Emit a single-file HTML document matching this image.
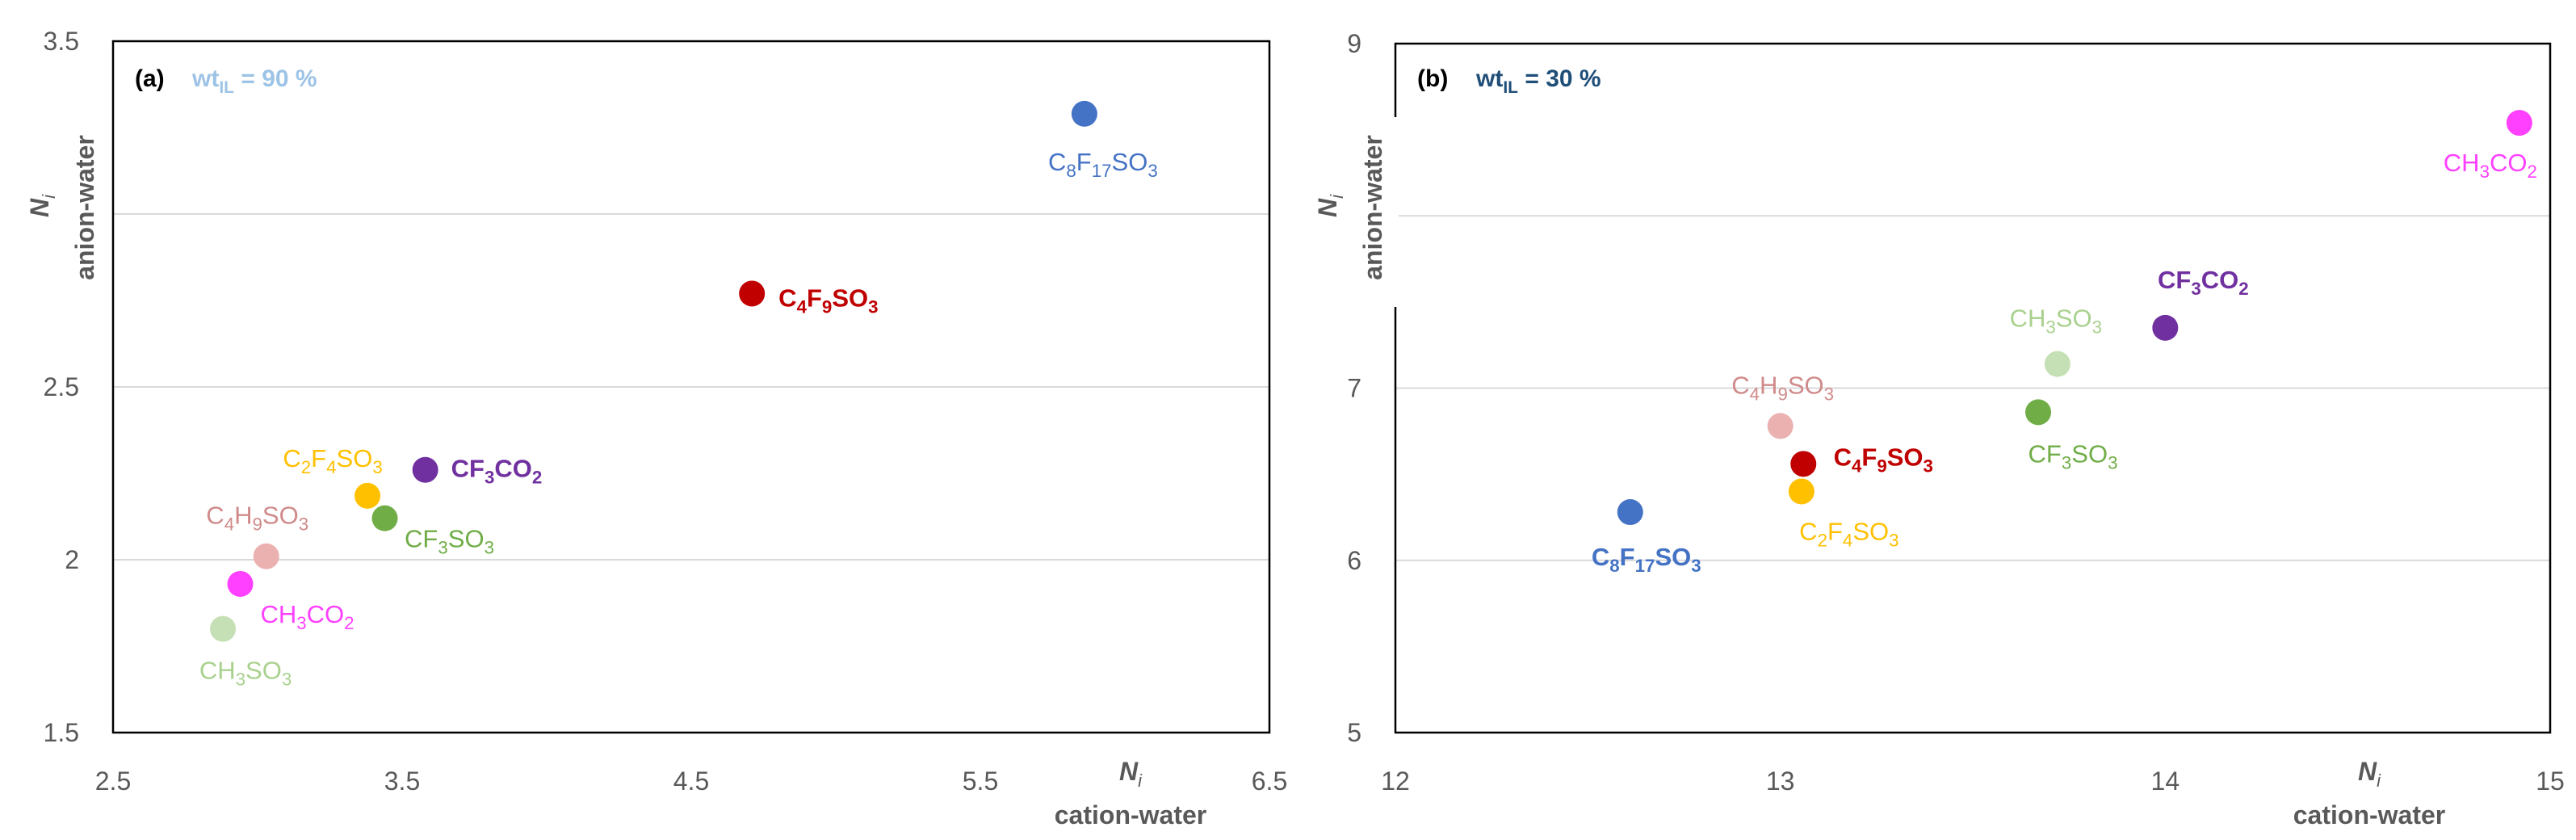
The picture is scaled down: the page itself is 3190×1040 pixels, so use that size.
<!DOCTYPE html>
<html><head><meta charset="utf-8"><style>
html,body{margin:0;padding:0;background:#fff;}
svg{display:block;font-family:"Liberation Sans",sans-serif;}
</style></head><body>
<svg id="chart" width="3190" height="1040" viewBox="0 0 3190 1040" xmlns="http://www.w3.org/2000/svg"></svg>
<script>
// ---- data ----
const anions = ["C8F17SO3","C4F9SO3","CF3CO2","C2F4SO3","CF3SO3","C4H9SO3","CH3CO2","CH3SO3"];
const colors = ["#4472c4","#c00000","#7030a0","#ffc000","#70ad47","#ebb0b0","#ff40ff","#c5e0b4"];
const textColors = ["#4472c4","#c00000","#7030a0","#ffc000","#70ad47","#d08a8a","#ff40ff","#a9d18e"];
const xA = [5.86,4.71,3.58,3.38,3.44,3.03,2.94,2.88];
const yA = [3.29,2.77,2.26,2.185,2.12,2.01,1.93,1.80];
const xB = [12.61,13.06,14.0,13.055,13.67,13.0,14.92,13.72];
const yB = [6.28,6.56,7.35,6.40,6.86,6.78,8.54,7.14];
const xTicksA = [2.5,3.5,4.5,5.5,6.5];
const yTicksA = [1.5,2,2.5,3,3.5];
const yLabelsA = ["1.5","2","2.5","","3.5"];
const xTicksB = [12,13,14,15];
const yTicksB = [5,6,7,8,9];
const yLabelsB = ["5","6","7","","9"];
// label layout (pixel offsets from marker, anchor, bold)
const layA = [[23,59,"middle",0],[33,5,"start",1],[32,-2,"start",1],[-43,-47,"middle",0],[80,25,"middle",0],[-11,-51,"middle",0],[83,37,"middle",0],[28,51,"middle",0]];
const layB = [[20,55,"middle",1],[99,-9,"middle",1],[47,-60,"middle",1],[59,49,"middle",0],[43,51,"middle",0],[3,-51,"middle",0],[-36,49,"middle",0],[-2,-57,"middle",0]];

const NS="http://www.w3.org/2000/svg";
const svg=document.getElementById('chart');
function mk(tag,attrs,parent){const e=document.createElementNS(NS,tag);for(const k in attrs)e.setAttribute(k,attrs[k]);(parent||svg).appendChild(e);return e;}
function chem(t,str){
  const parts=str.match(/[A-Z][a-z]?|\d+/g);
  parts.forEach(p=>{
    const s=mk('tspan',{},t);
    if(/\d/.test(p)){s.setAttribute('font-size','0.72em');s.setAttribute('dy','8');s.textContent=p;}
    else{s.textContent=p;if(t.lastChild.previousSibling&&/\d/.test(t.lastChild.previousSibling.textContent))s.setAttribute('dy','-8');}
  });
}
function panel(o){
  const g=mk('g',{});
  
  
  const X=v=>o.L+(v-o.x0)/(o.x1-o.x0)*(o.R-o.L);
  const Y=v=>o.B-(v-o.y0)/(o.y1-o.y0)*(o.B-o.T);
  o.yt.forEach((v,i)=>{
    if(i>0&&i<o.yt.length-1){const l=mk('line',{x1:o.L,x2:o.R,y1:Y(v),y2:Y(v),stroke:'#d9d9d9','stroke-width':2},g);
      }
    if(o.yl[i]){const t=mk('text',{x:o.L-42,y:Y(v)+11,'text-anchor':'end','font-size':32,fill:'#595959'},g);t.textContent=o.yl[i];
      }
  });
  o.xt.forEach(v=>{const t=mk('text',{x:X(v),y:978,'text-anchor':'middle','font-size':32,fill:'#595959'},g);t.textContent=String(v);
    });
  const fr=mk('rect',{x:o.L,y:o.T,width:o.R-o.L,height:o.B-o.T,fill:'none',stroke:'#000','stroke-width':2.5},g);
  
  if(o.gap){mk('rect',{x:o.L-4,y:145,width:8,height:235,fill:'#fff'},g);}
  // panel labels
  const pl=mk('text',{x:o.L+27,y:107,'font-size':30,'font-weight':'bold',fill:'#000'},g);pl.textContent=o.tag;
  
  const wt=mk('text',{x:o.L+o.wtx,y:107,'font-size':30,'font-weight':'bold',fill:o.wtc},g);
  
  mk('tspan',{},wt).textContent='wt';const s=mk('tspan',{dy:8,'font-size':21},wt);s.textContent='IL';
  mk('tspan',{dy:-8},wt).textContent=' = '+o.wt+' %';
  // axis titles
  const xt=mk('text',{x:o.xtx,y:966,'text-anchor':'middle','font-size':32,'font-weight':'bold','font-style':'italic',fill:'#595959'},g);
  
  mk('tspan',{},xt).textContent='N';const xi=mk('tspan',{dy:8,'font-size':22,'font-weight':'normal'},xt);xi.textContent='i';
  const xt2=mk('text',{x:o.xtx,y:1020,'text-anchor':'middle','font-size':32,'font-weight':'bold',fill:'#595959'},g);xt2.textContent='cation-water';
  
  const yt=mk('text',{transform:`translate(${o.ytx},255) rotate(-90)`,'text-anchor':'middle','font-size':32,'font-weight':'bold','font-style':'italic',fill:'#595959'},g);
  
  mk('tspan',{},yt).textContent='N';mk('tspan',{dy:8,'font-size':22,'font-weight':'normal'},yt).textContent='i';
  const yt2=mk('text',{transform:`translate(${o.ytx+56},257) rotate(-90)`,'text-anchor':'middle','font-size':32,'font-weight':'bold',fill:'#595959'},g);yt2.textContent='anion-water';
  
  // points
  anions.forEach((a,i)=>{
    const cx=X(o.xs[i]),cy=Y(o.ys[i]);
    const c=mk('circle',{cx:cx,cy:cy,r:16,fill:colors[i]},g);
    
    
    const L=o.lay[i];
    const t=mk('text',{x:cx+L[0],y:cy+L[1]+11,'text-anchor':L[2],'font-size':31,'font-weight':L[3]?'bold':'normal',fill:textColors[i]},g);
    
    
    chem(t,a);
  });
}
panel({name:'panel-a',L:140,R:1572,T:51,B:907,x0:2.5,x1:6.5,y0:1.5,y1:3.5,xs:xA,ys:yA,xt:xTicksA,yt:yTicksA,yl:yLabelsA,lay:layA,
  tag:'(a)',wt:90,wtx:98,wtc:'#9dc3e6',xtx:1400,ytx:60,gap:false});
panel({name:'panel-b',L:1728,R:3158,T:54,B:907,x0:12,x1:15,y0:5,y1:9,xs:xB,ys:yB,xt:xTicksB,yt:yTicksB,yl:yLabelsB,lay:layB,
  tag:'(b)',wt:30,wtx:100,wtc:'#1f4e79',xtx:2934,ytx:1655,gap:true});
</script>
</body></html>
